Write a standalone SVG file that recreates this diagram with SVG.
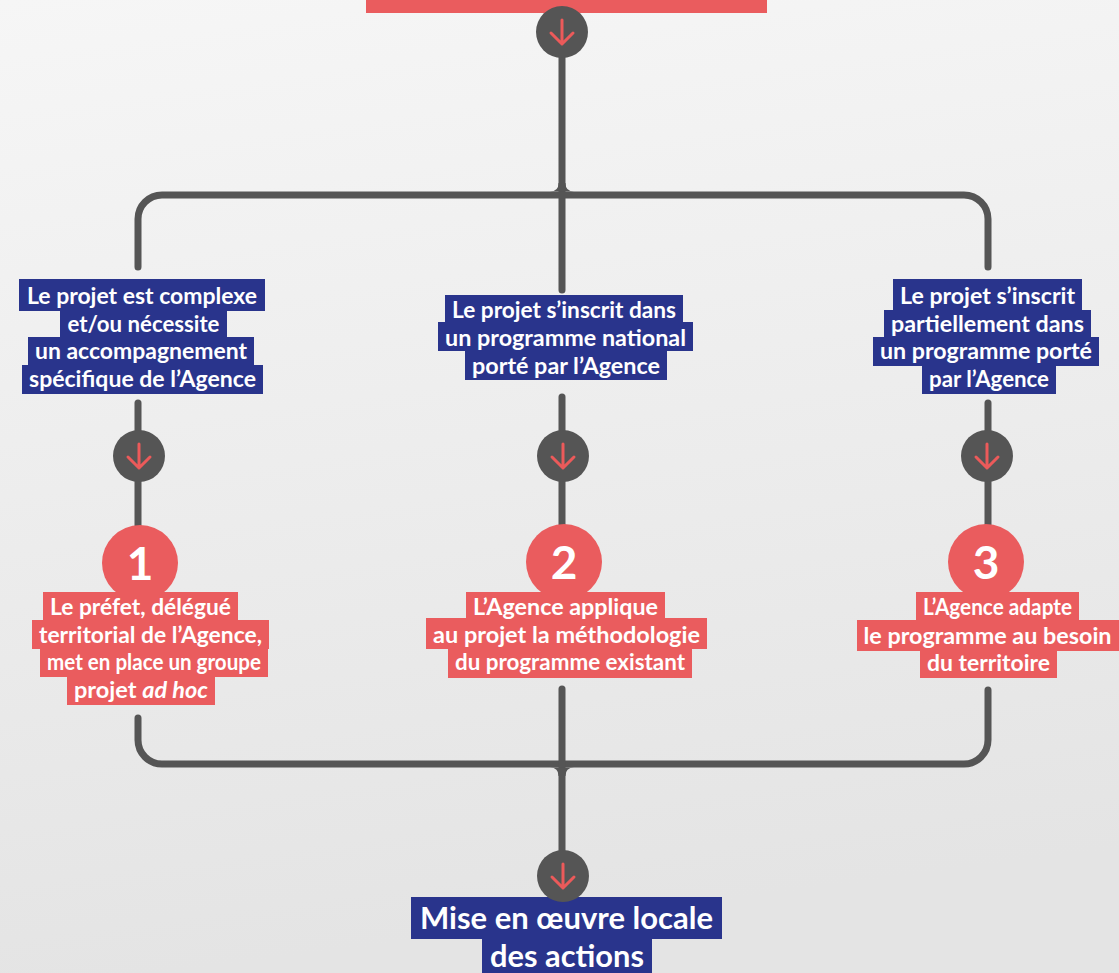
<svg xmlns="http://www.w3.org/2000/svg" width="1119" height="973" viewBox="0 0 1119 973">
<defs>
<linearGradient id="bg" x1="0" y1="0" x2="0.15" y2="1">
<stop offset="0" stop-color="#f6f6f6"/>
<stop offset="1" stop-color="#e4e4e4"/>
</linearGradient>
<g id="arrow">
<circle r="26" fill="#555555"/>
<path d="M0,-12 V12 M-11,1 L0,12 L11,1" fill="none" stroke="#ec5a5a" stroke-width="3" stroke-linecap="round" stroke-linejoin="round"/>
</g>
</defs>
<style>
.ln{fill:none;stroke:#555555;stroke-width:7;stroke-linecap:round;stroke-linejoin:round}
.b{fill:#29348c}
.r{fill:#ea5c5e}
.t{font-family:Lato,"Open Sans","Liberation Sans",sans-serif;font-weight:bold;font-size:22.5px;fill:#ffffff;text-anchor:middle}
.big{font-size:31px}
.num{font-family:Lato,"Open Sans","Liberation Sans",sans-serif;font-weight:bold;font-size:46px;fill:#ffffff;text-anchor:middle}
</style>
<rect width="1119" height="973" fill="url(#bg)"/>

<g id="connectors">
<path class="ln" d="M562,32 V290"/>
<path class="ln" d="M138,267 V219 A24,24 0 0 1 162,195 H964 A24,24 0 0 1 988,219 V267"/>
<path d="M550,191.5 Q558.5,191.5 558.5,183 L565.5,183 Q565.5,191.5 574,191.5 Z" fill="#555555"/>
<path class="ln" d="M138,403 V528"/>
<path class="ln" d="M562,397 V528"/>
<path class="ln" d="M988,403 V528"/>
<path class="ln" d="M138,718 V740 A24,24 0 0 0 162,764 H964 A24,24 0 0 0 988,740 V690"/>
<path class="ln" d="M562,689 V873"/>
<path d="M550,767.5 Q558.5,767.5 558.5,776 L565.5,776 Q565.5,767.5 574,767.5 Z" fill="#555555"/>
</g>

<g id="start">
<rect class="r" x="366" y="0" width="401" height="13"/>
<use href="#arrow" x="562" y="32"/>
</g>

<g id="cond1">
<rect class="b" x="19" y="279" width="246" height="32"/>
<rect class="b" x="60" y="310" width="167" height="28"/>
<rect class="b" x="28" y="337" width="226" height="29"/>
<rect class="b" x="22" y="365" width="241" height="29"/>
<text class="t" x="142" y="304" textLength="230" lengthAdjust="spacingAndGlyphs">Le projet est complexe</text>
<text class="t" x="143.5" y="332" textLength="152" lengthAdjust="spacingAndGlyphs">et/ou nécessite</text>
<text class="t" x="141" y="359" textLength="212" lengthAdjust="spacingAndGlyphs">un accompagnement</text>
<text class="t" x="142.5" y="387" textLength="227" lengthAdjust="spacingAndGlyphs">spécifique de l’Agence</text>
</g>

<g id="cond2">
<rect class="b" x="445" y="295" width="238" height="28"/>
<rect class="b" x="438" y="322" width="255" height="29"/>
<rect class="b" x="465" y="350" width="202" height="30"/>
<text class="t" x="564" y="318" textLength="224" lengthAdjust="spacingAndGlyphs">Le projet s’inscrit dans</text>
<text class="t" x="565.5" y="346" textLength="241" lengthAdjust="spacingAndGlyphs">un programme national</text>
<text class="t" x="566" y="374" textLength="188" lengthAdjust="spacingAndGlyphs">porté par l’Agence</text>
</g>

<g id="cond3">
<rect class="b" x="893" y="279" width="189" height="32"/>
<rect class="b" x="884" y="310" width="207" height="28"/>
<rect class="b" x="873" y="337" width="226" height="29"/>
<rect class="b" x="922" y="365" width="134" height="29"/>
<text class="t" x="987.5" y="304" textLength="175" lengthAdjust="spacingAndGlyphs">Le projet s’inscrit</text>
<text class="t" x="987.5" y="332" textLength="193" lengthAdjust="spacingAndGlyphs">partiellement dans</text>
<text class="t" x="986" y="359" textLength="212" lengthAdjust="spacingAndGlyphs">un programme porté</text>
<text class="t" x="989" y="387" textLength="120" lengthAdjust="spacingAndGlyphs">par l’Agence</text>
</g>

<g id="down1"><use href="#arrow" x="139" y="456"/></g>
<g id="down2"><use href="#arrow" x="563" y="456"/></g>
<g id="down3"><use href="#arrow" x="987" y="456"/></g>

<g id="step1">
<circle class="r" cx="140" cy="563" r="38"/>
<text class="num" x="140" y="580">1</text>
<rect class="r" x="43" y="592" width="195" height="29"/>
<rect class="r" x="32" y="620" width="237" height="29"/>
<rect class="r" x="40" y="648" width="228" height="29"/>
<rect class="r" x="67" y="676" width="148" height="29"/>
<text class="t" x="140.5" y="615" textLength="181" lengthAdjust="spacingAndGlyphs">Le préfet, délégué</text>
<text class="t" x="150.5" y="643" textLength="223" lengthAdjust="spacingAndGlyphs">territorial de l’Agence,</text>
<text class="t" x="154" y="670" textLength="214" lengthAdjust="spacingAndGlyphs">met en place un groupe</text>
<text class="t" x="141" y="698" textLength="134" lengthAdjust="spacingAndGlyphs">projet <tspan font-style="italic">ad hoc</tspan></text>
</g>

<g id="step2">
<circle class="r" cx="564" cy="562" r="38"/>
<text class="num" x="564" y="579">2</text>
<rect class="r" x="466" y="592" width="199" height="27"/>
<rect class="r" x="426" y="618" width="281" height="31"/>
<rect class="r" x="448" y="648" width="244" height="30"/>
<text class="t" x="565.5" y="615" textLength="185" lengthAdjust="spacingAndGlyphs">L’Agence applique</text>
<text class="t" x="566.5" y="643" textLength="267" lengthAdjust="spacingAndGlyphs">au projet la méthodologie</text>
<text class="t" x="570" y="670" textLength="230" lengthAdjust="spacingAndGlyphs">du programme existant</text>
</g>

<g id="step3">
<circle class="r" cx="986" cy="562" r="38"/>
<text class="num" x="986" y="579">3</text>
<rect class="r" x="916" y="592" width="163" height="29"/>
<rect class="r" x="857" y="620" width="262" height="31"/>
<rect class="r" x="920" y="650" width="137" height="28"/>
<text class="t" x="997.5" y="615" textLength="149" lengthAdjust="spacingAndGlyphs">L’Agence adapte</text>
<text class="t" x="987.5" y="644" textLength="248" lengthAdjust="spacingAndGlyphs">le programme au besoin</text>
<text class="t" x="988.5" y="671" textLength="123" lengthAdjust="spacingAndGlyphs">du territoire</text>
</g>

<g id="end">
<rect class="b" x="411" y="897" width="311" height="42"/>
<rect class="b" x="482" y="938" width="170" height="35"/>
<use href="#arrow" x="563" y="876"/>
<text class="t big" x="566.5" y="929" textLength="293" lengthAdjust="spacingAndGlyphs">Mise en œuvre locale</text>
<text class="t big" x="567" y="967" textLength="154" lengthAdjust="spacingAndGlyphs">des actions</text>
</g>
</svg>
